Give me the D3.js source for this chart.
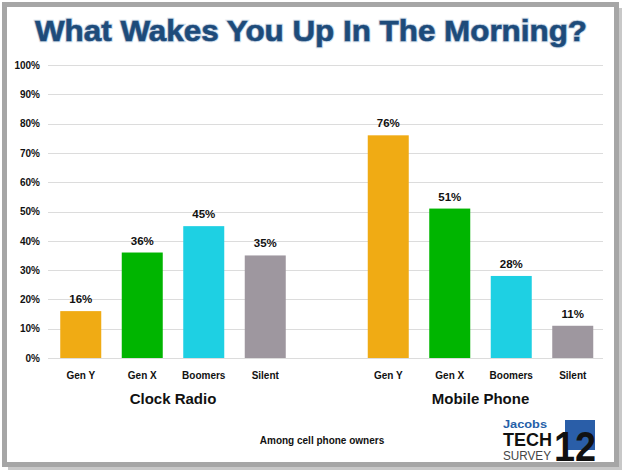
<!DOCTYPE html>
<html>
<head>
<meta charset="utf-8">
<script src="https://cdn.jsdelivr.net/npm/d3@7"></script>
<style>
  body { margin: 0; background: #fff; }
  text { font-family: "Liberation Sans", Arial, sans-serif; }
</style>
</head>
<body>
<div id="chart"></div>
<script>
// data
const devices = ['Clock Radio', 'Mobile Phone'];
const generations = ['Gen Y', 'Gen X', 'Boomers', 'Silent'];
const clockRadio = [16, 36, 45, 35];
const mobilePhone = [76, 51, 28, 11];
const yTicks = [0, 10, 20, 30, 40, 50, 60, 70, 80, 90, 100];
const genColors = ['#F0AB14', '#00B500', '#1ED0E3', '#9E979F'];

const W = 624, H = 474;

const svg = d3.select('#chart')
  .append('svg')
  .attr('width', W)
  .attr('height', H);

// frame with shadow
svg.append('rect')
  .attr('x', 8).attr('y', 8).attr('width', 614).attr('height', 462)
  .attr('fill', '#c8c8c8');
svg.append('rect')
  .attr('x', 4.5).attr('y', 4.5).attr('width', 612).attr('height', 460)
  .attr('fill', '#fff')
  .attr('stroke', '#a6a6a6')
  .attr('stroke-width', 5);

// title (with a faint glow behind)
svg.append('text')
  .attr('x', 311).attr('y', 41)
  .attr('text-anchor', 'middle')
  .attr('font-size', 30)
  .attr('font-weight', 'bold')
  .attr('textLength', 552)
  .attr('lengthAdjust', 'spacingAndGlyphs')
  .attr('fill', 'none')
  .attr('stroke', '#cfdcea')
  .attr('stroke-width', 2.5)
  .text('What Wakes You Up In The Morning?');
svg.append('text')
  .attr('x', 311).attr('y', 41)
  .attr('text-anchor', 'middle')
  .attr('font-size', 30)
  .attr('font-weight', 'bold')
  .attr('textLength', 552)
  .attr('lengthAdjust', 'spacingAndGlyphs')
  .attr('fill', '#1D4B7A')
  .attr('stroke', '#1D4B7A')
  .attr('stroke-width', 0.6)
  .text('What Wakes You Up In The Morning?');

// scales
const y = d3.scaleLinear().domain([0, 100]).range([358, 65]);
const x0 = d3.scaleBand().domain(devices).range([19.25, 634.25]);
const x1 = d3.scaleBand().domain(generations)
  .range([0, x0.bandwidth()])
  .paddingInner(1 / 3)
  .paddingOuter(2 / 3);

// gridlines
svg.append('g')
  .selectAll('line')
  .data(yTicks)
  .enter()
  .append('line')
  .attr('x1', 48).attr('x2', 603)
  .attr('y1', d => Math.round(y(d)) + 0.5)
  .attr('y2', d => Math.round(y(d)) + 0.5)
  .attr('stroke', '#dcdcdc')
  .attr('stroke-width', 1);

// y axis labels
const yAxis = svg.append('g')
  .attr('transform', 'translate(40,0)')
  .call(d3.axisLeft(y).tickValues(yTicks).tickFormat(d => d + '%').tickSize(0).tickPadding(0));
yAxis.select('.domain').remove();
yAxis.selectAll('text')
  .attr('font-family', '"Liberation Sans", Arial, sans-serif')
  .attr('font-size', 10)
  .attr('font-weight', 'bold')
  .attr('fill', '#111');

const series = [clockRadio, mobilePhone];

const groups = svg.selectAll('g.group')
  .data(devices)
  .enter()
  .append('g')
  .attr('class', 'group')
  .attr('transform', d => 'translate(' + x0(d) + ',0)');

groups.each(function(dev, i) {
  const g = d3.select(this);
  const vals = generations.map((gen, j) => ({ gen: gen, v: series[i][j], c: genColors[j] }));

  g.selectAll('rect')
    .data(vals)
    .enter()
    .append('rect')
    .attr('x', d => x1(d.gen))
    .attr('width', x1.bandwidth())
    .attr('y', d => y(d.v))
    .attr('height', d => y(0) - y(d.v))
    .attr('fill', d => d.c);

  g.selectAll('text.val')
    .data(vals)
    .enter()
    .append('text')
    .attr('class', 'val')
    .attr('x', d => x1(d.gen) + x1.bandwidth() / 2)
    .attr('y', d => y(d.v) - 8)
    .attr('text-anchor', 'middle')
    .attr('font-size', 11.5)
    .attr('font-weight', 'bold')
    .attr('fill', '#111')
    .text(d => d.v + '%');

  g.selectAll('text.cat')
    .data(vals)
    .enter()
    .append('text')
    .attr('class', 'cat')
    .attr('x', d => x1(d.gen) + x1.bandwidth() / 2)
    .attr('y', 379)
    .attr('text-anchor', 'middle')
    .attr('font-size', 10)
    .attr('font-weight', 'bold')
    .attr('fill', '#111')
    .text(d => d.gen);

  g.append('text')
    .attr('x', x0.bandwidth() / 2)
    .attr('y', 404)
    .attr('text-anchor', 'middle')
    .attr('font-size', 15)
    .attr('font-weight', 'bold')
    .attr('fill', '#111')
    .text(dev);
});

// footnote
svg.append('text')
  .attr('x', 322).attr('y', 444)
  .attr('text-anchor', 'middle')
  .attr('font-size', 10)
  .attr('font-weight', 'bold')
  .attr('fill', '#111')
  .text('Among cell phone owners');

// logo
const logo = svg.append('g').attr('transform', 'translate(503,0)');
logo.append('text')
  .attr('x', 0).attr('y', 428)
  .attr('font-size', 11)
  .attr('font-weight', 'bold')
  .attr('textLength', 44)
  .attr('lengthAdjust', 'spacingAndGlyphs')
  .attr('fill', '#2560a8')
  .text('Jacobs');
logo.append('text')
  .attr('x', 0).attr('y', 446)
  .attr('font-size', 18)
  .attr('font-weight', 'bold')
  .attr('textLength', 49)
  .attr('lengthAdjust', 'spacingAndGlyphs')
  .attr('fill', '#111')
  .text('TECH');
logo.append('text')
  .attr('x', 0).attr('y', 460)
  .attr('font-size', 12)
  .attr('textLength', 48)
  .attr('lengthAdjust', 'spacingAndGlyphs')
  .attr('fill', '#444')
  .text('SURVEY');
logo.append('path')
  .attr('d', 'M62,420 L92,420 L92,450 L62,450 Z')
  .attr('fill', '#2a5ea8');
logo.append('text')
  .attr('x', 51).attr('y', 461)
  .attr('font-size', 42)
  .attr('font-weight', 'bold')
  .attr('textLength', 42)
  .attr('lengthAdjust', 'spacingAndGlyphs')
  .attr('fill', '#111')
  .text('12');
</script>
</body>
</html>
